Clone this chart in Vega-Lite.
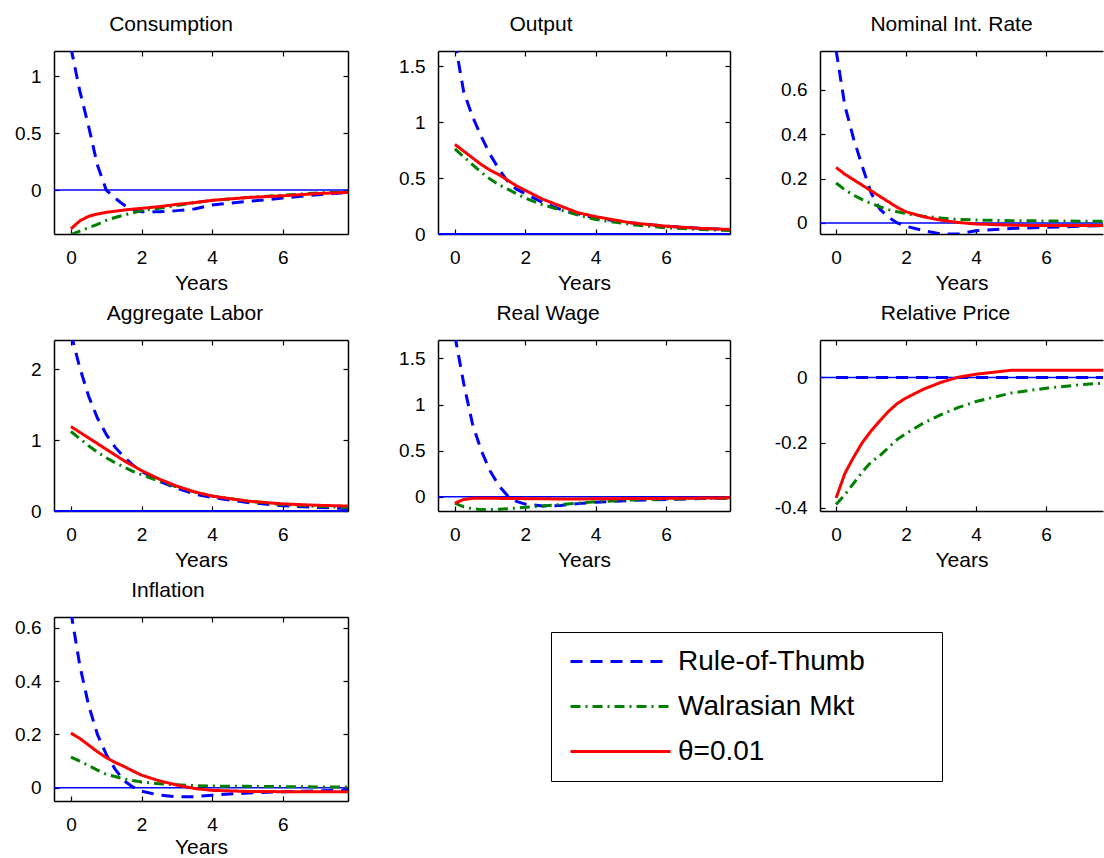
{
  "$schema": "https://vega.github.io/schema/vega-lite/v6.json",
  "padding": {"left": 14, "top": 14, "right": 0, "bottom": 0},
  "background": "white",
  "data": {"values": [
    {"p":"Consumption","s":"Rule-of-Thumb","t":0,"v":1.25},{"p":"Consumption","s":"Rule-of-Thumb","t":0.25,"v":0.87},{"p":"Consumption","s":"Rule-of-Thumb","t":0.5,"v":0.56},{"p":"Consumption","s":"Rule-of-Thumb","t":0.75,"v":0.22},{"p":"Consumption","s":"Rule-of-Thumb","t":1,"v":0.0},{"p":"Consumption","s":"Rule-of-Thumb","t":1.25,"v":-0.07},{"p":"Consumption","s":"Rule-of-Thumb","t":1.5,"v":-0.13},{"p":"Consumption","s":"Rule-of-Thumb","t":1.75,"v":-0.17},{"p":"Consumption","s":"Rule-of-Thumb","t":2,"v":-0.19},{"p":"Consumption","s":"Rule-of-Thumb","t":2.5,"v":-0.19},{"p":"Consumption","s":"Rule-of-Thumb","t":3,"v":-0.18},{"p":"Consumption","s":"Rule-of-Thumb","t":3.5,"v":-0.165},{"p":"Consumption","s":"Rule-of-Thumb","t":4,"v":-0.13},{"p":"Consumption","s":"Rule-of-Thumb","t":5,"v":-0.10},{"p":"Consumption","s":"Rule-of-Thumb","t":6,"v":-0.07},{"p":"Consumption","s":"Rule-of-Thumb","t":7,"v":-0.04},{"p":"Consumption","s":"Rule-of-Thumb","t":7.85,"v":-0.02},
    {"p":"Consumption","s":"Walrasian Mkt","t":0,"v":-0.39},{"p":"Consumption","s":"Walrasian Mkt","t":0.25,"v":-0.36},{"p":"Consumption","s":"Walrasian Mkt","t":0.5,"v":-0.33},{"p":"Consumption","s":"Walrasian Mkt","t":0.75,"v":-0.30},{"p":"Consumption","s":"Walrasian Mkt","t":1,"v":-0.265},{"p":"Consumption","s":"Walrasian Mkt","t":1.25,"v":-0.24},{"p":"Consumption","s":"Walrasian Mkt","t":1.5,"v":-0.22},{"p":"Consumption","s":"Walrasian Mkt","t":1.75,"v":-0.20},{"p":"Consumption","s":"Walrasian Mkt","t":2,"v":-0.18},{"p":"Consumption","s":"Walrasian Mkt","t":2.5,"v":-0.16},{"p":"Consumption","s":"Walrasian Mkt","t":3,"v":-0.135},{"p":"Consumption","s":"Walrasian Mkt","t":3.5,"v":-0.11},{"p":"Consumption","s":"Walrasian Mkt","t":4,"v":-0.09},{"p":"Consumption","s":"Walrasian Mkt","t":5,"v":-0.065},{"p":"Consumption","s":"Walrasian Mkt","t":6,"v":-0.045},{"p":"Consumption","s":"Walrasian Mkt","t":7,"v":-0.025},{"p":"Consumption","s":"Walrasian Mkt","t":7.85,"v":-0.015},
    {"p":"Consumption","s":"θ=0.01","t":0,"v":-0.34},{"p":"Consumption","s":"θ=0.01","t":0.25,"v":-0.27},{"p":"Consumption","s":"θ=0.01","t":0.5,"v":-0.23},{"p":"Consumption","s":"θ=0.01","t":0.75,"v":-0.21},{"p":"Consumption","s":"θ=0.01","t":1,"v":-0.195},{"p":"Consumption","s":"θ=0.01","t":1.25,"v":-0.185},{"p":"Consumption","s":"θ=0.01","t":1.5,"v":-0.175},{"p":"Consumption","s":"θ=0.01","t":1.75,"v":-0.167},{"p":"Consumption","s":"θ=0.01","t":2,"v":-0.16},{"p":"Consumption","s":"θ=0.01","t":2.5,"v":-0.145},{"p":"Consumption","s":"θ=0.01","t":3,"v":-0.125},{"p":"Consumption","s":"θ=0.01","t":3.5,"v":-0.11},{"p":"Consumption","s":"θ=0.01","t":4,"v":-0.09},{"p":"Consumption","s":"θ=0.01","t":5,"v":-0.065},{"p":"Consumption","s":"θ=0.01","t":6,"v":-0.05},{"p":"Consumption","s":"θ=0.01","t":7,"v":-0.03},{"p":"Consumption","s":"θ=0.01","t":7.85,"v":-0.02},

    {"p":"Output","s":"Rule-of-Thumb","t":0,"v":1.72},{"p":"Output","s":"Rule-of-Thumb","t":0.25,"v":1.27},{"p":"Output","s":"Rule-of-Thumb","t":0.5,"v":1.05},{"p":"Output","s":"Rule-of-Thumb","t":0.75,"v":0.87},{"p":"Output","s":"Rule-of-Thumb","t":1,"v":0.71},{"p":"Output","s":"Rule-of-Thumb","t":1.25,"v":0.58},{"p":"Output","s":"Rule-of-Thumb","t":1.5,"v":0.47},{"p":"Output","s":"Rule-of-Thumb","t":1.75,"v":0.40},{"p":"Output","s":"Rule-of-Thumb","t":2,"v":0.36},{"p":"Output","s":"Rule-of-Thumb","t":2.5,"v":0.28},{"p":"Output","s":"Rule-of-Thumb","t":3,"v":0.22},{"p":"Output","s":"Rule-of-Thumb","t":3.5,"v":0.18},{"p":"Output","s":"Rule-of-Thumb","t":4,"v":0.14},{"p":"Output","s":"Rule-of-Thumb","t":5,"v":0.10},{"p":"Output","s":"Rule-of-Thumb","t":6,"v":0.07},{"p":"Output","s":"Rule-of-Thumb","t":7,"v":0.05},{"p":"Output","s":"Rule-of-Thumb","t":7.85,"v":0.04},
    {"p":"Output","s":"Walrasian Mkt","t":0,"v":0.76},{"p":"Output","s":"Walrasian Mkt","t":0.25,"v":0.69},{"p":"Output","s":"Walrasian Mkt","t":0.5,"v":0.62},{"p":"Output","s":"Walrasian Mkt","t":0.75,"v":0.55},{"p":"Output","s":"Walrasian Mkt","t":1,"v":0.49},{"p":"Output","s":"Walrasian Mkt","t":1.25,"v":0.44},{"p":"Output","s":"Walrasian Mkt","t":1.5,"v":0.40},{"p":"Output","s":"Walrasian Mkt","t":1.75,"v":0.36},{"p":"Output","s":"Walrasian Mkt","t":2,"v":0.32},{"p":"Output","s":"Walrasian Mkt","t":2.5,"v":0.26},{"p":"Output","s":"Walrasian Mkt","t":3,"v":0.215},{"p":"Output","s":"Walrasian Mkt","t":3.5,"v":0.17},{"p":"Output","s":"Walrasian Mkt","t":4,"v":0.13},{"p":"Output","s":"Walrasian Mkt","t":5,"v":0.085},{"p":"Output","s":"Walrasian Mkt","t":6,"v":0.055},{"p":"Output","s":"Walrasian Mkt","t":7,"v":0.04},{"p":"Output","s":"Walrasian Mkt","t":7.85,"v":0.03},
    {"p":"Output","s":"θ=0.01","t":0,"v":0.80},{"p":"Output","s":"θ=0.01","t":0.25,"v":0.74},{"p":"Output","s":"θ=0.01","t":0.5,"v":0.68},{"p":"Output","s":"θ=0.01","t":0.75,"v":0.62},{"p":"Output","s":"θ=0.01","t":1,"v":0.57},{"p":"Output","s":"θ=0.01","t":1.25,"v":0.53},{"p":"Output","s":"θ=0.01","t":1.5,"v":0.48},{"p":"Output","s":"θ=0.01","t":1.75,"v":0.43},{"p":"Output","s":"θ=0.01","t":2,"v":0.39},{"p":"Output","s":"θ=0.01","t":2.5,"v":0.31},{"p":"Output","s":"θ=0.01","t":3,"v":0.25},{"p":"Output","s":"θ=0.01","t":3.5,"v":0.19},{"p":"Output","s":"θ=0.01","t":4,"v":0.155},{"p":"Output","s":"θ=0.01","t":5,"v":0.10},{"p":"Output","s":"θ=0.01","t":6,"v":0.07},{"p":"Output","s":"θ=0.01","t":7,"v":0.05},{"p":"Output","s":"θ=0.01","t":7.85,"v":0.04},

    {"p":"Nominal","s":"Rule-of-Thumb","t":0,"v":0.78},{"p":"Nominal","s":"Rule-of-Thumb","t":0.25,"v":0.53},{"p":"Nominal","s":"Rule-of-Thumb","t":0.5,"v":0.38},{"p":"Nominal","s":"Rule-of-Thumb","t":0.75,"v":0.255},{"p":"Nominal","s":"Rule-of-Thumb","t":1,"v":0.135},{"p":"Nominal","s":"Rule-of-Thumb","t":1.25,"v":0.063},{"p":"Nominal","s":"Rule-of-Thumb","t":1.5,"v":0.025},{"p":"Nominal","s":"Rule-of-Thumb","t":1.75,"v":0.0},{"p":"Nominal","s":"Rule-of-Thumb","t":2,"v":-0.015},{"p":"Nominal","s":"Rule-of-Thumb","t":2.5,"v":-0.035},{"p":"Nominal","s":"Rule-of-Thumb","t":3,"v":-0.05},{"p":"Nominal","s":"Rule-of-Thumb","t":3.5,"v":-0.05},{"p":"Nominal","s":"Rule-of-Thumb","t":4,"v":-0.035},{"p":"Nominal","s":"Rule-of-Thumb","t":5,"v":-0.025},{"p":"Nominal","s":"Rule-of-Thumb","t":6,"v":-0.02},{"p":"Nominal","s":"Rule-of-Thumb","t":7,"v":-0.015},{"p":"Nominal","s":"Rule-of-Thumb","t":7.85,"v":-0.012},
    {"p":"Nominal","s":"Walrasian Mkt","t":0,"v":0.18},{"p":"Nominal","s":"Walrasian Mkt","t":0.25,"v":0.15},{"p":"Nominal","s":"Walrasian Mkt","t":0.5,"v":0.125},{"p":"Nominal","s":"Walrasian Mkt","t":0.75,"v":0.105},{"p":"Nominal","s":"Walrasian Mkt","t":1,"v":0.088},{"p":"Nominal","s":"Walrasian Mkt","t":1.25,"v":0.073},{"p":"Nominal","s":"Walrasian Mkt","t":1.5,"v":0.06},{"p":"Nominal","s":"Walrasian Mkt","t":1.75,"v":0.05},{"p":"Nominal","s":"Walrasian Mkt","t":2,"v":0.042},{"p":"Nominal","s":"Walrasian Mkt","t":2.5,"v":0.03},{"p":"Nominal","s":"Walrasian Mkt","t":3,"v":0.022},{"p":"Nominal","s":"Walrasian Mkt","t":3.5,"v":0.016},{"p":"Nominal","s":"Walrasian Mkt","t":4,"v":0.013},{"p":"Nominal","s":"Walrasian Mkt","t":5,"v":0.01},{"p":"Nominal","s":"Walrasian Mkt","t":6,"v":0.009},{"p":"Nominal","s":"Walrasian Mkt","t":7,"v":0.008},{"p":"Nominal","s":"Walrasian Mkt","t":7.85,"v":0.008},
    {"p":"Nominal","s":"θ=0.01","t":0,"v":0.25},{"p":"Nominal","s":"θ=0.01","t":0.25,"v":0.22},{"p":"Nominal","s":"θ=0.01","t":0.5,"v":0.195},{"p":"Nominal","s":"θ=0.01","t":0.75,"v":0.17},{"p":"Nominal","s":"θ=0.01","t":1,"v":0.145},{"p":"Nominal","s":"θ=0.01","t":1.25,"v":0.12},{"p":"Nominal","s":"θ=0.01","t":1.5,"v":0.095},{"p":"Nominal","s":"θ=0.01","t":1.75,"v":0.07},{"p":"Nominal","s":"θ=0.01","t":2,"v":0.05},{"p":"Nominal","s":"θ=0.01","t":2.5,"v":0.028},{"p":"Nominal","s":"θ=0.01","t":3,"v":0.012},{"p":"Nominal","s":"θ=0.01","t":3.5,"v":0.002},{"p":"Nominal","s":"θ=0.01","t":4,"v":-0.005},{"p":"Nominal","s":"θ=0.01","t":5,"v":-0.01},{"p":"Nominal","s":"θ=0.01","t":6,"v":-0.012},{"p":"Nominal","s":"θ=0.01","t":7,"v":-0.012},{"p":"Nominal","s":"θ=0.01","t":7.85,"v":-0.012},

    {"p":"Labor","s":"Rule-of-Thumb","t":0,"v":2.5},{"p":"Labor","s":"Rule-of-Thumb","t":0.25,"v":2.02},{"p":"Labor","s":"Rule-of-Thumb","t":0.5,"v":1.62},{"p":"Labor","s":"Rule-of-Thumb","t":0.75,"v":1.31},{"p":"Labor","s":"Rule-of-Thumb","t":1,"v":1.08},{"p":"Labor","s":"Rule-of-Thumb","t":1.25,"v":0.90},{"p":"Labor","s":"Rule-of-Thumb","t":1.5,"v":0.76},{"p":"Labor","s":"Rule-of-Thumb","t":1.75,"v":0.65},{"p":"Labor","s":"Rule-of-Thumb","t":2,"v":0.56},{"p":"Labor","s":"Rule-of-Thumb","t":2.5,"v":0.42},{"p":"Labor","s":"Rule-of-Thumb","t":3,"v":0.32},{"p":"Labor","s":"Rule-of-Thumb","t":3.5,"v":0.24},{"p":"Labor","s":"Rule-of-Thumb","t":4,"v":0.19},{"p":"Labor","s":"Rule-of-Thumb","t":5,"v":0.12},{"p":"Labor","s":"Rule-of-Thumb","t":6,"v":0.075},{"p":"Labor","s":"Rule-of-Thumb","t":7,"v":0.05},{"p":"Labor","s":"Rule-of-Thumb","t":7.85,"v":0.035},
    {"p":"Labor","s":"Walrasian Mkt","t":0,"v":1.12},{"p":"Labor","s":"Walrasian Mkt","t":0.25,"v":1.02},{"p":"Labor","s":"Walrasian Mkt","t":0.5,"v":0.92},{"p":"Labor","s":"Walrasian Mkt","t":0.75,"v":0.83},{"p":"Labor","s":"Walrasian Mkt","t":1,"v":0.75},{"p":"Labor","s":"Walrasian Mkt","t":1.25,"v":0.68},{"p":"Labor","s":"Walrasian Mkt","t":1.5,"v":0.62},{"p":"Labor","s":"Walrasian Mkt","t":1.75,"v":0.56},{"p":"Labor","s":"Walrasian Mkt","t":2,"v":0.51},{"p":"Labor","s":"Walrasian Mkt","t":2.5,"v":0.42},{"p":"Labor","s":"Walrasian Mkt","t":3,"v":0.34},{"p":"Labor","s":"Walrasian Mkt","t":3.5,"v":0.27},{"p":"Labor","s":"Walrasian Mkt","t":4,"v":0.21},{"p":"Labor","s":"Walrasian Mkt","t":5,"v":0.14},{"p":"Labor","s":"Walrasian Mkt","t":6,"v":0.09},{"p":"Labor","s":"Walrasian Mkt","t":7,"v":0.065},{"p":"Labor","s":"Walrasian Mkt","t":7.85,"v":0.05},
    {"p":"Labor","s":"θ=0.01","t":0,"v":1.19},{"p":"Labor","s":"θ=0.01","t":0.25,"v":1.11},{"p":"Labor","s":"θ=0.01","t":0.5,"v":1.03},{"p":"Labor","s":"θ=0.01","t":0.75,"v":0.95},{"p":"Labor","s":"θ=0.01","t":1,"v":0.87},{"p":"Labor","s":"θ=0.01","t":1.25,"v":0.79},{"p":"Labor","s":"θ=0.01","t":1.5,"v":0.71},{"p":"Labor","s":"θ=0.01","t":1.75,"v":0.64},{"p":"Labor","s":"θ=0.01","t":2,"v":0.57},{"p":"Labor","s":"θ=0.01","t":2.5,"v":0.45},{"p":"Labor","s":"θ=0.01","t":3,"v":0.35},{"p":"Labor","s":"θ=0.01","t":3.5,"v":0.27},{"p":"Labor","s":"θ=0.01","t":4,"v":0.21},{"p":"Labor","s":"θ=0.01","t":5,"v":0.14},{"p":"Labor","s":"θ=0.01","t":6,"v":0.10},{"p":"Labor","s":"θ=0.01","t":7,"v":0.08},{"p":"Labor","s":"θ=0.01","t":7.85,"v":0.07},

    {"p":"Wage","s":"Rule-of-Thumb","t":0,"v":1.75},{"p":"Wage","s":"Rule-of-Thumb","t":0.25,"v":1.23},{"p":"Wage","s":"Rule-of-Thumb","t":0.5,"v":0.79},{"p":"Wage","s":"Rule-of-Thumb","t":0.75,"v":0.50},{"p":"Wage","s":"Rule-of-Thumb","t":1,"v":0.28},{"p":"Wage","s":"Rule-of-Thumb","t":1.25,"v":0.12},{"p":"Wage","s":"Rule-of-Thumb","t":1.5,"v":0.01},{"p":"Wage","s":"Rule-of-Thumb","t":1.75,"v":-0.05},{"p":"Wage","s":"Rule-of-Thumb","t":2,"v":-0.08},{"p":"Wage","s":"Rule-of-Thumb","t":2.5,"v":-0.10},{"p":"Wage","s":"Rule-of-Thumb","t":3,"v":-0.095},{"p":"Wage","s":"Rule-of-Thumb","t":3.5,"v":-0.075},{"p":"Wage","s":"Rule-of-Thumb","t":4,"v":-0.06},{"p":"Wage","s":"Rule-of-Thumb","t":5,"v":-0.04},{"p":"Wage","s":"Rule-of-Thumb","t":6,"v":-0.03},{"p":"Wage","s":"Rule-of-Thumb","t":7,"v":-0.02},{"p":"Wage","s":"Rule-of-Thumb","t":7.85,"v":-0.015},
    {"p":"Wage","s":"Walrasian Mkt","t":0,"v":-0.07},{"p":"Wage","s":"Walrasian Mkt","t":0.25,"v":-0.11},{"p":"Wage","s":"Walrasian Mkt","t":0.5,"v":-0.13},{"p":"Wage","s":"Walrasian Mkt","t":0.75,"v":-0.14},{"p":"Wage","s":"Walrasian Mkt","t":1,"v":-0.14},{"p":"Wage","s":"Walrasian Mkt","t":1.25,"v":-0.135},{"p":"Wage","s":"Walrasian Mkt","t":1.5,"v":-0.13},{"p":"Wage","s":"Walrasian Mkt","t":1.75,"v":-0.123},{"p":"Wage","s":"Walrasian Mkt","t":2,"v":-0.115},{"p":"Wage","s":"Walrasian Mkt","t":2.5,"v":-0.10},{"p":"Wage","s":"Walrasian Mkt","t":3,"v":-0.085},{"p":"Wage","s":"Walrasian Mkt","t":3.5,"v":-0.07},{"p":"Wage","s":"Walrasian Mkt","t":4,"v":-0.055},{"p":"Wage","s":"Walrasian Mkt","t":5,"v":-0.035},{"p":"Wage","s":"Walrasian Mkt","t":6,"v":-0.025},{"p":"Wage","s":"Walrasian Mkt","t":7,"v":-0.018},{"p":"Wage","s":"Walrasian Mkt","t":7.85,"v":-0.015},
    {"p":"Wage","s":"θ=0.01","t":0,"v":-0.07},{"p":"Wage","s":"θ=0.01","t":0.25,"v":-0.03},{"p":"Wage","s":"θ=0.01","t":0.5,"v":-0.018},{"p":"Wage","s":"θ=0.01","t":0.75,"v":-0.017},{"p":"Wage","s":"θ=0.01","t":1,"v":-0.017},{"p":"Wage","s":"θ=0.01","t":1.25,"v":-0.018},{"p":"Wage","s":"θ=0.01","t":1.5,"v":-0.019},{"p":"Wage","s":"θ=0.01","t":1.75,"v":-0.02},{"p":"Wage","s":"θ=0.01","t":2,"v":-0.021},{"p":"Wage","s":"θ=0.01","t":2.5,"v":-0.023},{"p":"Wage","s":"θ=0.01","t":3,"v":-0.024},{"p":"Wage","s":"θ=0.01","t":3.5,"v":-0.024},{"p":"Wage","s":"θ=0.01","t":4,"v":-0.023},{"p":"Wage","s":"θ=0.01","t":5,"v":-0.02},{"p":"Wage","s":"θ=0.01","t":6,"v":-0.018},{"p":"Wage","s":"θ=0.01","t":7,"v":-0.015},{"p":"Wage","s":"θ=0.01","t":7.85,"v":-0.012},

    {"p":"Price","s":"Rule-of-Thumb","t":0,"v":0},{"p":"Price","s":"Rule-of-Thumb","t":1,"v":0},{"p":"Price","s":"Rule-of-Thumb","t":2,"v":0},{"p":"Price","s":"Rule-of-Thumb","t":3,"v":0},{"p":"Price","s":"Rule-of-Thumb","t":4,"v":0},{"p":"Price","s":"Rule-of-Thumb","t":5,"v":0},{"p":"Price","s":"Rule-of-Thumb","t":6,"v":0},{"p":"Price","s":"Rule-of-Thumb","t":7,"v":0},{"p":"Price","s":"Rule-of-Thumb","t":7.85,"v":0},
    {"p":"Price","s":"Walrasian Mkt","t":0,"v":-0.39},{"p":"Price","s":"Walrasian Mkt","t":0.25,"v":-0.36},{"p":"Price","s":"Walrasian Mkt","t":0.5,"v":-0.325},{"p":"Price","s":"Walrasian Mkt","t":0.75,"v":-0.29},{"p":"Price","s":"Walrasian Mkt","t":1,"v":-0.26},{"p":"Price","s":"Walrasian Mkt","t":1.25,"v":-0.24},{"p":"Price","s":"Walrasian Mkt","t":1.5,"v":-0.215},{"p":"Price","s":"Walrasian Mkt","t":1.75,"v":-0.19},{"p":"Price","s":"Walrasian Mkt","t":2,"v":-0.172},{"p":"Price","s":"Walrasian Mkt","t":2.5,"v":-0.14},{"p":"Price","s":"Walrasian Mkt","t":3,"v":-0.114},{"p":"Price","s":"Walrasian Mkt","t":3.5,"v":-0.092},{"p":"Price","s":"Walrasian Mkt","t":4,"v":-0.074},{"p":"Price","s":"Walrasian Mkt","t":5,"v":-0.048},{"p":"Price","s":"Walrasian Mkt","t":6,"v":-0.033},{"p":"Price","s":"Walrasian Mkt","t":7,"v":-0.022},{"p":"Price","s":"Walrasian Mkt","t":7.85,"v":-0.016},
    {"p":"Price","s":"θ=0.01","t":0,"v":-0.37},{"p":"Price","s":"θ=0.01","t":0.25,"v":-0.295},{"p":"Price","s":"θ=0.01","t":0.5,"v":-0.245},{"p":"Price","s":"θ=0.01","t":0.75,"v":-0.20},{"p":"Price","s":"θ=0.01","t":1,"v":-0.164},{"p":"Price","s":"θ=0.01","t":1.25,"v":-0.133},{"p":"Price","s":"θ=0.01","t":1.5,"v":-0.104},{"p":"Price","s":"θ=0.01","t":1.75,"v":-0.08},{"p":"Price","s":"θ=0.01","t":2,"v":-0.063},{"p":"Price","s":"θ=0.01","t":2.5,"v":-0.036},{"p":"Price","s":"θ=0.01","t":3,"v":-0.015},{"p":"Price","s":"θ=0.01","t":3.5,"v":0.001},{"p":"Price","s":"θ=0.01","t":4,"v":0.010},{"p":"Price","s":"θ=0.01","t":5,"v":0.022},{"p":"Price","s":"θ=0.01","t":6,"v":0.022},{"p":"Price","s":"θ=0.01","t":7,"v":0.022},{"p":"Price","s":"θ=0.01","t":7.85,"v":0.022},

    {"p":"Inflation","s":"Rule-of-Thumb","t":0,"v":0.66},{"p":"Inflation","s":"Rule-of-Thumb","t":0.25,"v":0.46},{"p":"Inflation","s":"Rule-of-Thumb","t":0.5,"v":0.31},{"p":"Inflation","s":"Rule-of-Thumb","t":0.75,"v":0.20},{"p":"Inflation","s":"Rule-of-Thumb","t":1,"v":0.125},{"p":"Inflation","s":"Rule-of-Thumb","t":1.25,"v":0.07},{"p":"Inflation","s":"Rule-of-Thumb","t":1.5,"v":0.027},{"p":"Inflation","s":"Rule-of-Thumb","t":1.75,"v":0.003},{"p":"Inflation","s":"Rule-of-Thumb","t":2,"v":-0.013},{"p":"Inflation","s":"Rule-of-Thumb","t":2.5,"v":-0.028},{"p":"Inflation","s":"Rule-of-Thumb","t":3,"v":-0.034},{"p":"Inflation","s":"Rule-of-Thumb","t":3.5,"v":-0.034},{"p":"Inflation","s":"Rule-of-Thumb","t":4,"v":-0.028},{"p":"Inflation","s":"Rule-of-Thumb","t":5,"v":-0.02},{"p":"Inflation","s":"Rule-of-Thumb","t":6,"v":-0.015},{"p":"Inflation","s":"Rule-of-Thumb","t":7,"v":-0.012},{"p":"Inflation","s":"Rule-of-Thumb","t":7.85,"v":-0.01},
    {"p":"Inflation","s":"Walrasian Mkt","t":0,"v":0.115},{"p":"Inflation","s":"Walrasian Mkt","t":0.25,"v":0.10},{"p":"Inflation","s":"Walrasian Mkt","t":0.5,"v":0.083},{"p":"Inflation","s":"Walrasian Mkt","t":0.75,"v":0.066},{"p":"Inflation","s":"Walrasian Mkt","t":1,"v":0.05},{"p":"Inflation","s":"Walrasian Mkt","t":1.25,"v":0.042},{"p":"Inflation","s":"Walrasian Mkt","t":1.5,"v":0.033},{"p":"Inflation","s":"Walrasian Mkt","t":1.75,"v":0.027},{"p":"Inflation","s":"Walrasian Mkt","t":2,"v":0.021},{"p":"Inflation","s":"Walrasian Mkt","t":2.5,"v":0.015},{"p":"Inflation","s":"Walrasian Mkt","t":3,"v":0.011},{"p":"Inflation","s":"Walrasian Mkt","t":3.5,"v":0.008},{"p":"Inflation","s":"Walrasian Mkt","t":4,"v":0.006},{"p":"Inflation","s":"Walrasian Mkt","t":5,"v":0.005},{"p":"Inflation","s":"Walrasian Mkt","t":6,"v":0.004},{"p":"Inflation","s":"Walrasian Mkt","t":7,"v":0.003},{"p":"Inflation","s":"Walrasian Mkt","t":7.85,"v":0.003},
    {"p":"Inflation","s":"θ=0.01","t":0,"v":0.205},{"p":"Inflation","s":"θ=0.01","t":0.25,"v":0.185},{"p":"Inflation","s":"θ=0.01","t":0.5,"v":0.16},{"p":"Inflation","s":"θ=0.01","t":0.75,"v":0.135},{"p":"Inflation","s":"θ=0.01","t":1,"v":0.113},{"p":"Inflation","s":"θ=0.01","t":1.25,"v":0.095},{"p":"Inflation","s":"θ=0.01","t":1.5,"v":0.08},{"p":"Inflation","s":"θ=0.01","t":1.75,"v":0.063},{"p":"Inflation","s":"θ=0.01","t":2,"v":0.047},{"p":"Inflation","s":"θ=0.01","t":2.5,"v":0.026},{"p":"Inflation","s":"θ=0.01","t":3,"v":0.01},{"p":"Inflation","s":"θ=0.01","t":3.5,"v":-0.003},{"p":"Inflation","s":"θ=0.01","t":4,"v":-0.01},{"p":"Inflation","s":"θ=0.01","t":5,"v":-0.014},{"p":"Inflation","s":"θ=0.01","t":6,"v":-0.015},{"p":"Inflation","s":"θ=0.01","t":7,"v":-0.015},{"p":"Inflation","s":"θ=0.01","t":7.85,"v":-0.015}
  ]},
  "columns": 3,
  "spacing": {"row": 106, "column": 90},
  "bounds": "flush",
  "concat": [
    {
      "title": {"text": "Consumption", "dx": -30},
      "width": 294, "height": 183,
      "resolve": {"axis": {"x": "independent", "y": "independent"}},
      "layer": [
        {"data": {"values": [{"z": 0}]}, "mark": {"type": "rule", "color": "#0000ff", "strokeWidth": 1.5},
         "encoding": {"y": {"field": "z", "type": "quantitative", "scale": {"domain": [-0.385, 1.22], "nice": false, "zero": false}, "axis": {"orient": "right", "labels": false, "title": null, "values": [0, 0.5, 1]}}}},
        {"data": {"values": [{"z": 0}]}, "mark": {"type": "rule", "opacity": 0},
         "encoding": {"x": {"field": "z", "type": "quantitative", "scale": {"domain": [-0.48, 7.85], "nice": false, "zero": false}, "axis": {"orient": "top", "labels": false, "title": null, "values": [0, 2, 4, 6]}}}},
        {"transform": [{"filter": "datum.p == 'Consumption'"}],
         "mark": {"type": "line", "strokeWidth": 3, "clip": true},
         "encoding": {
           "x": {"field": "t", "type": "quantitative", "scale": {"domain": [-0.48, 7.85], "nice": false, "zero": false}, "axis": {"orient": "bottom", "values": [0, 2, 4, 6], "title": "Years", "labelExpr": "'' + datum.value"}},
           "y": {"field": "v", "type": "quantitative", "scale": {"domain": [-0.385, 1.22], "nice": false, "zero": false}, "axis": {"orient": "left", "values": [0, 0.5, 1], "title": null, "labelExpr": "'' + datum.value", "labelPadding": 18}},
           "color": {"field": "s", "type": "nominal", "scale": {"domain": ["Rule-of-Thumb", "Walrasian Mkt", "θ=0.01"], "range": ["#0000ff", "#008000", "#ff0000"]}, "legend": {"orient": "none", "legendX": 497, "legendY": 581, "title": null, "labelExpr": "datum.label == 'Rule-of-Thumb' ? datum.label + '\u00a0\u00a0\u00a0\u00a0\u00a0\u00a0\u00a0\u00a0\u00a0\u200b' : datum.label"}},
           "strokeDash": {"field": "s", "type": "nominal", "scale": {"domain": ["Rule-of-Thumb", "Walrasian Mkt", "θ=0.01"], "range": [[12, 8], [10, 5, 2, 5], [1, 0]]}, "legend": {"orient": "none", "legendX": 497, "legendY": 581, "title": null, "labelExpr": "datum.label == 'Rule-of-Thumb' ? datum.label + '\u00a0\u00a0\u00a0\u00a0\u00a0\u00a0\u00a0\u00a0\u00a0\u200b' : datum.label"}}
         }}
      ]
    },
    {
      "title": {"text": "Output", "dx": -43},
      "width": 292, "height": 183,
      "resolve": {"axis": {"x": "independent", "y": "independent"}},
      "layer": [
        {"data": {"values": [{"z": 0}]}, "mark": {"type": "rule", "color": "#0000ff", "strokeWidth": 2},
         "encoding": {"y": {"field": "z", "type": "quantitative", "scale": {"domain": [0, 1.634], "nice": false, "zero": false}, "axis": {"orient": "right", "labels": false, "title": null, "values": [0, 0.5, 1, 1.5]}}}},
        {"data": {"values": [{"z": 0}]}, "mark": {"type": "rule", "opacity": 0},
         "encoding": {"x": {"field": "z", "type": "quantitative", "scale": {"domain": [-0.48, 7.82], "nice": false, "zero": false}, "axis": {"orient": "top", "labels": false, "title": null, "values": [0, 2, 4, 6]}}}},
        {"transform": [{"filter": "datum.p == 'Output'"}],
         "mark": {"type": "line", "strokeWidth": 3, "clip": true},
         "encoding": {
           "x": {"field": "t", "type": "quantitative", "scale": {"domain": [-0.48, 7.82], "nice": false, "zero": false}, "axis": {"orient": "bottom", "values": [0, 2, 4, 6], "title": "Years", "labelExpr": "'' + datum.value"}},
           "y": {"field": "v", "type": "quantitative", "scale": {"domain": [0, 1.634], "nice": false, "zero": false}, "axis": {"orient": "left", "values": [0, 0.5, 1, 1.5], "title": null, "labelExpr": "'' + datum.value", "labelPadding": 18}},
           "color": {"field": "s", "type": "nominal", "scale": {"domain": ["Rule-of-Thumb", "Walrasian Mkt", "θ=0.01"], "range": ["#0000ff", "#008000", "#ff0000"]}, "legend": {"orient": "none", "legendX": 497, "legendY": 581, "title": null, "labelExpr": "datum.label == 'Rule-of-Thumb' ? datum.label + '\u00a0\u00a0\u00a0\u00a0\u00a0\u00a0\u00a0\u00a0\u00a0\u200b' : datum.label"}},
           "strokeDash": {"field": "s", "type": "nominal", "scale": {"domain": ["Rule-of-Thumb", "Walrasian Mkt", "θ=0.01"], "range": [[12, 8], [10, 5, 2, 5], [1, 0]]}, "legend": {"orient": "none", "legendX": 497, "legendY": 581, "title": null, "labelExpr": "datum.label == 'Rule-of-Thumb' ? datum.label + '\u00a0\u00a0\u00a0\u00a0\u00a0\u00a0\u00a0\u00a0\u00a0\u200b' : datum.label"}}
         }}
      ]
    },
    {
      "title": {"text": "Nominal Int. Rate", "dx": -10},
      "width": 283, "height": 183,
      "resolve": {"axis": {"x": "independent", "y": "independent"}},
      "layer": [
        {"data": {"values": [{"z": 0}]}, "mark": {"type": "rule", "color": "#0000ff", "strokeWidth": 1.5},
         "encoding": {"y": {"field": "z", "type": "quantitative", "scale": {"domain": [-0.05, 0.776], "nice": false, "zero": false}, "axis": null}}},
        {"data": {"values": [{"z": 0}]}, "mark": {"type": "rule", "opacity": 0},
         "encoding": {"x": {"field": "z", "type": "quantitative", "scale": {"domain": [-0.46, 7.63], "nice": false, "zero": false}, "axis": {"orient": "top", "labels": false, "title": null, "values": [0, 2, 4, 6]}}}},
        {"transform": [{"filter": "datum.p == 'Nominal'"}],
         "mark": {"type": "line", "strokeWidth": 3, "clip": true},
         "encoding": {
           "x": {"field": "t", "type": "quantitative", "scale": {"domain": [-0.46, 7.63], "nice": false, "zero": false}, "axis": {"orient": "bottom", "values": [0, 2, 4, 6], "title": "Years", "labelExpr": "'' + datum.value"}},
           "y": {"field": "v", "type": "quantitative", "scale": {"domain": [-0.05, 0.776], "nice": false, "zero": false}, "axis": {"orient": "left", "values": [0, 0.2, 0.4, 0.6], "title": null, "labelExpr": "'' + datum.value", "labelPadding": 18}},
           "color": {"field": "s", "type": "nominal", "scale": {"domain": ["Rule-of-Thumb", "Walrasian Mkt", "θ=0.01"], "range": ["#0000ff", "#008000", "#ff0000"]}, "legend": {"orient": "none", "legendX": 497, "legendY": 581, "title": null, "labelExpr": "datum.label == 'Rule-of-Thumb' ? datum.label + '\u00a0\u00a0\u00a0\u00a0\u00a0\u00a0\u00a0\u00a0\u00a0\u200b' : datum.label"}},
           "strokeDash": {"field": "s", "type": "nominal", "scale": {"domain": ["Rule-of-Thumb", "Walrasian Mkt", "θ=0.01"], "range": [[12, 8], [10, 5, 2, 5], [1, 0]]}, "legend": {"orient": "none", "legendX": 497, "legendY": 581, "title": null, "labelExpr": "datum.label == 'Rule-of-Thumb' ? datum.label + '\u00a0\u00a0\u00a0\u00a0\u00a0\u00a0\u00a0\u00a0\u00a0\u200b' : datum.label"}}
         }}
      ]
    },
    {
      "title": {"text": "Aggregate Labor", "dx": -16},
      "width": 294, "height": 171,
      "resolve": {"axis": {"x": "independent", "y": "independent"}},
      "layer": [
        {"data": {"values": [{"z": 0}]}, "mark": {"type": "rule", "color": "#0000ff", "strokeWidth": 2},
         "encoding": {"y": {"field": "z", "type": "quantitative", "scale": {"domain": [0, 2.41], "nice": false, "zero": false}, "axis": {"orient": "right", "labels": false, "title": null, "values": [0, 1, 2]}}}},
        {"data": {"values": [{"z": 0}]}, "mark": {"type": "rule", "opacity": 0},
         "encoding": {"x": {"field": "z", "type": "quantitative", "scale": {"domain": [-0.48, 7.85], "nice": false, "zero": false}, "axis": {"orient": "top", "labels": false, "title": null, "values": [0, 2, 4, 6]}}}},
        {"transform": [{"filter": "datum.p == 'Labor'"}],
         "mark": {"type": "line", "strokeWidth": 3, "clip": true},
         "encoding": {
           "x": {"field": "t", "type": "quantitative", "scale": {"domain": [-0.48, 7.85], "nice": false, "zero": false}, "axis": {"orient": "bottom", "values": [0, 2, 4, 6], "title": "Years", "labelExpr": "'' + datum.value"}},
           "y": {"field": "v", "type": "quantitative", "scale": {"domain": [0, 2.41], "nice": false, "zero": false}, "axis": {"orient": "left", "values": [0, 1, 2], "title": null, "labelExpr": "'' + datum.value", "labelPadding": 18}},
           "color": {"field": "s", "type": "nominal", "scale": {"domain": ["Rule-of-Thumb", "Walrasian Mkt", "θ=0.01"], "range": ["#0000ff", "#008000", "#ff0000"]}, "legend": {"orient": "none", "legendX": 497, "legendY": 581, "title": null, "labelExpr": "datum.label == 'Rule-of-Thumb' ? datum.label + '\u00a0\u00a0\u00a0\u00a0\u00a0\u00a0\u00a0\u00a0\u00a0\u200b' : datum.label"}},
           "strokeDash": {"field": "s", "type": "nominal", "scale": {"domain": ["Rule-of-Thumb", "Walrasian Mkt", "θ=0.01"], "range": [[12, 8], [10, 5, 2, 5], [1, 0]]}, "legend": {"orient": "none", "legendX": 497, "legendY": 581, "title": null, "labelExpr": "datum.label == 'Rule-of-Thumb' ? datum.label + '\u00a0\u00a0\u00a0\u00a0\u00a0\u00a0\u00a0\u00a0\u00a0\u200b' : datum.label"}}
         }}
      ]
    },
    {
      "title": {"text": "Real Wage", "dx": -36},
      "width": 292, "height": 171,
      "resolve": {"axis": {"x": "independent", "y": "independent"}},
      "layer": [
        {"data": {"values": [{"z": 0}]}, "mark": {"type": "rule", "color": "#0000ff", "strokeWidth": 1.5},
         "encoding": {"y": {"field": "z", "type": "quantitative", "scale": {"domain": [-0.155, 1.70], "nice": false, "zero": false}, "axis": {"orient": "right", "labels": false, "title": null, "values": [0, 0.5, 1, 1.5]}}}},
        {"data": {"values": [{"z": 0}]}, "mark": {"type": "rule", "opacity": 0},
         "encoding": {"x": {"field": "z", "type": "quantitative", "scale": {"domain": [-0.48, 7.82], "nice": false, "zero": false}, "axis": {"orient": "top", "labels": false, "title": null, "values": [0, 2, 4, 6]}}}},
        {"transform": [{"filter": "datum.p == 'Wage'"}],
         "mark": {"type": "line", "strokeWidth": 3, "clip": true},
         "encoding": {
           "x": {"field": "t", "type": "quantitative", "scale": {"domain": [-0.48, 7.82], "nice": false, "zero": false}, "axis": {"orient": "bottom", "values": [0, 2, 4, 6], "title": "Years", "labelExpr": "'' + datum.value"}},
           "y": {"field": "v", "type": "quantitative", "scale": {"domain": [-0.155, 1.70], "nice": false, "zero": false}, "axis": {"orient": "left", "values": [0, 0.5, 1, 1.5], "title": null, "labelExpr": "'' + datum.value", "labelPadding": 18}},
           "color": {"field": "s", "type": "nominal", "scale": {"domain": ["Rule-of-Thumb", "Walrasian Mkt", "θ=0.01"], "range": ["#0000ff", "#008000", "#ff0000"]}, "legend": {"orient": "none", "legendX": 497, "legendY": 581, "title": null, "labelExpr": "datum.label == 'Rule-of-Thumb' ? datum.label + '\u00a0\u00a0\u00a0\u00a0\u00a0\u00a0\u00a0\u00a0\u00a0\u200b' : datum.label"}},
           "strokeDash": {"field": "s", "type": "nominal", "scale": {"domain": ["Rule-of-Thumb", "Walrasian Mkt", "θ=0.01"], "range": [[12, 8], [10, 5, 2, 5], [1, 0]]}, "legend": {"orient": "none", "legendX": 497, "legendY": 581, "title": null, "labelExpr": "datum.label == 'Rule-of-Thumb' ? datum.label + '\u00a0\u00a0\u00a0\u00a0\u00a0\u00a0\u00a0\u00a0\u00a0\u200b' : datum.label"}}
         }}
      ]
    },
    {
      "title": {"text": "Relative Price", "dx": -16},
      "width": 283, "height": 171,
      "resolve": {"axis": {"x": "independent", "y": "independent"}},
      "layer": [
        {"data": {"values": [{"z": 0}]}, "mark": {"type": "rule", "color": "#0000ff", "strokeWidth": 1.5},
         "encoding": {"y": {"field": "z", "type": "quantitative", "scale": {"domain": [-0.41, 0.115], "nice": false, "zero": false}, "axis": null}}},
        {"data": {"values": [{"z": 0}]}, "mark": {"type": "rule", "opacity": 0},
         "encoding": {"x": {"field": "z", "type": "quantitative", "scale": {"domain": [-0.46, 7.63], "nice": false, "zero": false}, "axis": {"orient": "top", "labels": false, "title": null, "values": [0, 2, 4, 6]}}}},
        {"transform": [{"filter": "datum.p == 'Price'"}],
         "mark": {"type": "line", "strokeWidth": 3, "clip": true},
         "encoding": {
           "x": {"field": "t", "type": "quantitative", "scale": {"domain": [-0.46, 7.63], "nice": false, "zero": false}, "axis": {"orient": "bottom", "values": [0, 2, 4, 6], "title": "Years", "labelExpr": "'' + datum.value"}},
           "y": {"field": "v", "type": "quantitative", "scale": {"domain": [-0.41, 0.115], "nice": false, "zero": false}, "axis": {"orient": "left", "values": [-0.4, -0.2, 0], "title": null, "labelExpr": "'' + datum.value", "labelPadding": 18}},
           "color": {"field": "s", "type": "nominal", "scale": {"domain": ["Rule-of-Thumb", "Walrasian Mkt", "θ=0.01"], "range": ["#0000ff", "#008000", "#ff0000"]}, "legend": {"orient": "none", "legendX": 497, "legendY": 581, "title": null, "labelExpr": "datum.label == 'Rule-of-Thumb' ? datum.label + '\u00a0\u00a0\u00a0\u00a0\u00a0\u00a0\u00a0\u00a0\u00a0\u200b' : datum.label"}},
           "strokeDash": {"field": "s", "type": "nominal", "scale": {"domain": ["Rule-of-Thumb", "Walrasian Mkt", "θ=0.01"], "range": [[12, 8], [10, 5, 2, 5], [1, 0]]}, "legend": {"orient": "none", "legendX": 497, "legendY": 581, "title": null, "labelExpr": "datum.label == 'Rule-of-Thumb' ? datum.label + '\u00a0\u00a0\u00a0\u00a0\u00a0\u00a0\u00a0\u00a0\u00a0\u200b' : datum.label"}}
         }}
      ]
    },
    {
      "title": {"text": "Inflation", "dx": -33},
      "width": 294, "height": 184,
      "resolve": {"axis": {"x": "independent", "y": "independent"}},
      "layer": [
        {"data": {"values": [{"z": 0}]}, "mark": {"type": "rule", "color": "#0000ff", "strokeWidth": 1.5},
         "encoding": {"y": {"field": "z", "type": "quantitative", "scale": {"domain": [-0.05, 0.641], "nice": false, "zero": false}, "axis": {"orient": "right", "labels": false, "title": null, "values": [0, 0.2, 0.4, 0.6]}}}},
        {"data": {"values": [{"z": 0}]}, "mark": {"type": "rule", "opacity": 0},
         "encoding": {"x": {"field": "z", "type": "quantitative", "scale": {"domain": [-0.48, 7.85], "nice": false, "zero": false}, "axis": {"orient": "top", "labels": false, "title": null, "values": [0, 2, 4, 6]}}}},
        {"transform": [{"filter": "datum.p == 'Inflation'"}],
         "mark": {"type": "line", "strokeWidth": 3, "clip": true},
         "encoding": {
           "x": {"field": "t", "type": "quantitative", "scale": {"domain": [-0.48, 7.85], "nice": false, "zero": false}, "axis": {"orient": "bottom", "values": [0, 2, 4, 6], "title": "Years", "labelExpr": "'' + datum.value", "titlePadding": 2}},
           "y": {"field": "v", "type": "quantitative", "scale": {"domain": [-0.05, 0.641], "nice": false, "zero": false}, "axis": {"orient": "left", "values": [0, 0.2, 0.4, 0.6], "title": null, "labelExpr": "'' + datum.value", "labelPadding": 18}},
           "color": {"field": "s", "type": "nominal", "scale": {"domain": ["Rule-of-Thumb", "Walrasian Mkt", "θ=0.01"], "range": ["#0000ff", "#008000", "#ff0000"]}, "legend": {"orient": "none", "legendX": 497, "legendY": 581, "title": null, "labelExpr": "datum.label == 'Rule-of-Thumb' ? datum.label + '\u00a0\u00a0\u00a0\u00a0\u00a0\u00a0\u00a0\u00a0\u00a0\u200b' : datum.label"}},
           "strokeDash": {"field": "s", "type": "nominal", "scale": {"domain": ["Rule-of-Thumb", "Walrasian Mkt", "θ=0.01"], "range": [[12, 8], [10, 5, 2, 5], [1, 0]]}, "legend": {"orient": "none", "legendX": 497, "legendY": 581, "title": null, "labelExpr": "datum.label == 'Rule-of-Thumb' ? datum.label + '\u00a0\u00a0\u00a0\u00a0\u00a0\u00a0\u00a0\u00a0\u00a0\u200b' : datum.label"}}
         }}
      ]
    }
  ],
  "config": {
    "font": "Liberation Sans",
    "view": {"stroke": null},
    "title": {"font": "Liberation Sans", "fontSize": 21, "fontWeight": "normal", "color": "black", "baseline": "alphabetic", "offset": 15, "frame": "group", "anchor": "middle"},
    "axis": {"labelFont": "Liberation Sans", "labelFontSize": 19, "labelColor": "black", "titleFont": "Liberation Sans", "titleFontSize": 21, "titleFontWeight": "normal", "titleColor": "black", "domainColor": "black", "domainWidth": 1.5, "tickColor": "black", "tickWidth": 1.2, "tickSize": -5, "labelPadding": 19, "titlePadding": 5, "grid": false, "labelFlush": false, "labelOverlap": false},
    "legend": {"labelFont": "Liberation Sans", "labelFontSize": 28, "labelColor": "black", "symbolType": "stroke", "symbolSize": 10000, "symbolStrokeWidth": 3, "strokeColor": "black", "padding": 7, "clipHeight": 45, "rowPadding": 0, "labelOffset": 6, "symbolOffset": 11, "labelLimit": 450}
  }
}
